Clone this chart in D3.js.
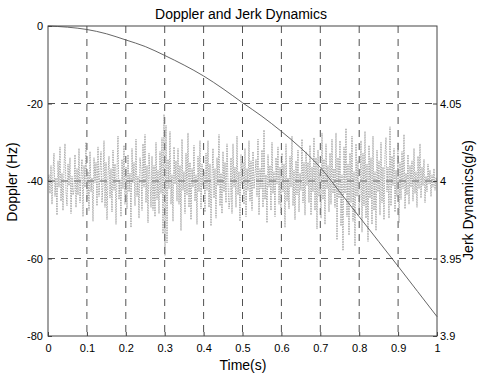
<!DOCTYPE html>
<html>
<head>
<meta charset="utf-8">
<script src="https://cdn.jsdelivr.net/npm/d3@7"></script>
<style>
  body { margin: 0; background: #fff; }
  text { font-family: "Liberation Sans", Arial, sans-serif; fill: #000; }
  .axis path, .axis line { stroke: #444; }
</style>
</head>
<body>
<svg id="chart" width="478" height="378"></svg>
<script>
// doppler curve at t = 0, 0.05, ..., 1
let dopTime = [0, 0.05, 0.1, 0.15, 0.2, 0.25, 0.3, 0.35, 0.4, 0.45, 0.5,
  0.55, 0.6, 0.65, 0.7, 0.75, 0.8, 0.85, 0.9, 0.95, 1];
let doppler = [0, -0.3, -0.9, -2.0, -3.6, -5.3, -7.6, -10.1, -12.9, -16.2, -19.8,
  -23.3, -27.2, -31.5, -36.5, -42.8, -49.2, -55.6, -62.0, -68.5, -75.0];

// jerk samples (evenly spaced over 0..1 s)
let jerk = [
  4.000,4.004,3.992,4.010,3.985,4.006,4.018,3.990,4.002,3.978,4.013,3.996,4.022,3.987,4.005,3.981,4.009,4.024,3.993,3.984,4.011,3.997,4.015,3.979,4.003,3.991,
  3.994,4.017,3.983,4.008,3.991,4.021,3.986,4.003,4.014,3.977,4.010,3.996,4.025,3.988,4.006,3.981,4.019,3.993,4.002,3.974,4.015,3.999,4.012,3.984,4.022,3.990,
  4.007,4.019,3.986,3.998,4.026,3.983,4.012,3.975,4.004,4.016,3.989,4.008,3.980,4.020,3.994,4.011,3.972,4.006,4.029,3.988,4.001,3.977,4.014,3.995,4.023,3.985,
  4.009,3.982,4.017,3.993,4.005,3.970,4.021,3.999,4.012,3.984,4.027,3.990,4.003,3.976,4.015,4.008,3.981,4.024,3.996,4.030,3.986,4.010,3.973,4.018,4.001,3.983,
  4.016,3.981,4.010,3.977,4.025,3.988,4.007,3.979,4.019,3.992,4.028,3.966,4.043,3.952,4.036,3.960,4.014,3.995,4.032,3.985,4.004,3.974,4.022,3.998,4.013,3.987,
  4.021,3.985,4.010,3.968,4.027,3.994,4.006,3.979,4.018,3.991,4.031,3.983,4.012,3.975,4.008,3.996,4.023,3.987,4.004,3.972,4.016,3.993,4.026,3.982,4.011,3.997,
  4.006,3.980,4.018,3.994,4.026,3.983,4.011,3.971,4.003,4.021,3.989,4.008,3.976,4.015,3.997,4.030,3.984,4.005,3.979,4.019,3.993,4.012,3.986,4.024,3.999,3.982,
  3.988,4.015,3.979,4.024,3.996,4.009,3.983,4.029,3.991,4.006,3.974,4.017,3.998,4.012,3.985,4.021,3.977,4.008,3.994,4.026,3.987,4.013,3.981,4.019,3.995,4.004,
  4.014,3.990,4.027,3.978,4.008,3.995,4.020,3.983,4.033,3.988,4.004,3.973,4.017,3.996,4.010,3.981,4.025,3.992,4.006,3.977,4.015,3.998,4.022,3.985,4.009,3.979,
  4.018,3.993,4.011,3.970,4.024,3.987,4.002,3.982,4.016,3.996,4.029,3.984,4.007,3.975,4.013,3.991,4.020,3.980,4.005,3.994,4.027,3.986,4.012,3.978,4.019,3.997,
  4.012,3.986,4.023,3.978,4.009,3.993,4.028,3.981,4.015,3.969,4.020,3.990,4.005,3.976,4.031,3.988,4.014,3.972,4.024,3.995,4.010,3.980,4.018,3.985,4.027,3.992,
  4.008,3.983,4.031,3.962,4.015,3.989,4.026,3.971,4.004,3.955,4.022,3.992,4.034,3.977,4.011,3.965,4.018,3.986,4.029,3.974,4.006,3.958,4.024,3.990,4.013,3.981,
  3.990,4.026,3.967,4.018,3.984,4.032,3.976,4.011,3.961,4.023,3.989,4.015,3.972,4.029,3.981,4.006,3.968,4.020,3.993,4.013,3.978,4.025,3.986,4.009,3.975,4.017,
  4.028,3.993,4.009,3.976,4.035,3.984,4.016,3.997,4.021,3.980,4.007,3.990,4.025,3.973,4.012,3.988,4.019,3.995,4.030,3.982,4.005,3.991,4.017,3.985,4.010,3.996,
  4.013,3.987,4.021,3.992,4.006,3.983,4.016,3.995,4.024,3.989,4.009,3.997,4.014,3.986,4.003,3.993,4.011,3.998,4.007,3.990,4.004,3.996,4.008,3.994,4.002,4.000
];

let xTicks = [0, 0.1, 0.2, 0.3, 0.4, 0.5, 0.6, 0.7, 0.8, 0.9, 1];
let leftTicks = [0, -20, -40, -60, -80];
let rightTicks = [3.9, 3.95, 4, 4.05];

let svg = d3.select("#chart");
let plotL = 48, plotR = 437, plotT = 26, plotB = 336;

let x = d3.scaleLinear().domain([0, 1]).range([plotL, plotR]);
let yL = d3.scaleLinear().domain([-80, 0]).range([plotB, plotT]);
let yR = d3.scaleLinear().domain([3.9, 4.1]).range([plotB, plotT]);

// plain number labels, hyphen minus like the original
let fmt = d => String(d);

// grid
let grid = svg.append("g").attr("opacity", 0.85);
grid.selectAll("line.gx").data(xTicks.slice(1, -1)).enter().append("line")
  .attr("x1", d => x(d)).attr("x2", d => x(d))
  .attr("y1", plotT).attr("y2", plotB)
  .attr("stroke", "#333").attr("stroke-width", 1)
  .attr("stroke-dasharray", "7,6");
grid.selectAll("line.gy").data(leftTicks.slice(1, -1)).enter().append("line")
  .attr("x1", plotL).attr("x2", plotR)
  .attr("y1", d => yL(d)).attr("y2", d => yL(d))
  .attr("stroke", "#333").attr("stroke-width", 1)
  .attr("stroke-dasharray", "7,6");

// jerk noise (right axis)
let jerkLine = d3.line()
  .x((d, i) => x(i / (jerk.length - 1)))
  .y(d => yR(d));
svg.append("path").datum(jerk)
  .attr("d", jerkLine)
  .attr("fill", "none")
  .attr("stroke", "#8a8a8a")
  .attr("stroke-width", 0.7)
  .attr("stroke-dasharray", "1.5,1");

// doppler (left axis)
let dopLine = d3.line()
  .x((d, i) => x(dopTime[i]))
  .y(d => yL(d))
  .curve(d3.curveMonotoneX);
svg.append("path").datum(doppler)
  .attr("d", dopLine)
  .attr("fill", "none")
  .attr("stroke", "#555")
  .attr("stroke-width", 0.9);

// axes with inward ticks
svg.append("g").attr("class", "axis")
  .attr("transform", `translate(0,${plotB})`)
  .call(d3.axisBottom(x).tickValues(xTicks).tickFormat(fmt).tickSize(-4).tickPadding(6))
  .call(g => g.selectAll("text").attr("font-size", 11).attr("dy", "0.9em"));
svg.append("g").attr("class", "axis")
  .attr("transform", `translate(${plotL},0)`)
  .call(d3.axisLeft(yL).tickValues(leftTicks).tickFormat(fmt).tickSize(-4).tickPadding(5))
  .call(g => g.selectAll("text").attr("font-size", 11));
svg.append("g").attr("class", "axis")
  .attr("transform", `translate(${plotR},0)`)
  .call(d3.axisRight(yR).tickValues(rightTicks).tickFormat(fmt).tickSize(-4).tickPadding(3))
  .call(g => g.selectAll("text").attr("font-size", 11));
svg.selectAll(".axis path.domain").remove();

// box
svg.append("rect")
  .attr("x", plotL).attr("y", plotT)
  .attr("width", plotR - plotL).attr("height", plotB - plotT)
  .attr("fill", "none").attr("stroke", "#444").attr("stroke-width", 1);

// labels
svg.append("text").attr("x", 241).attr("y", 19)
  .attr("text-anchor", "middle").attr("font-size", 14)
  .text("Doppler and Jerk Dynamics");
svg.append("text").attr("x", 243).attr("y", 370)
  .attr("text-anchor", "middle").attr("font-size", 14)
  .text("Time(s)");
svg.append("text").attr("transform", "translate(17,182) rotate(-90)")
  .attr("text-anchor", "middle").attr("font-size", 14)
  .text("Doppler (Hz)");
svg.append("text").attr("transform", "translate(473,200) rotate(-90)")
  .attr("text-anchor", "middle").attr("font-size", 14)
  .text("Jerk Dynamics(g/s)");
</script>
</body>
</html>
